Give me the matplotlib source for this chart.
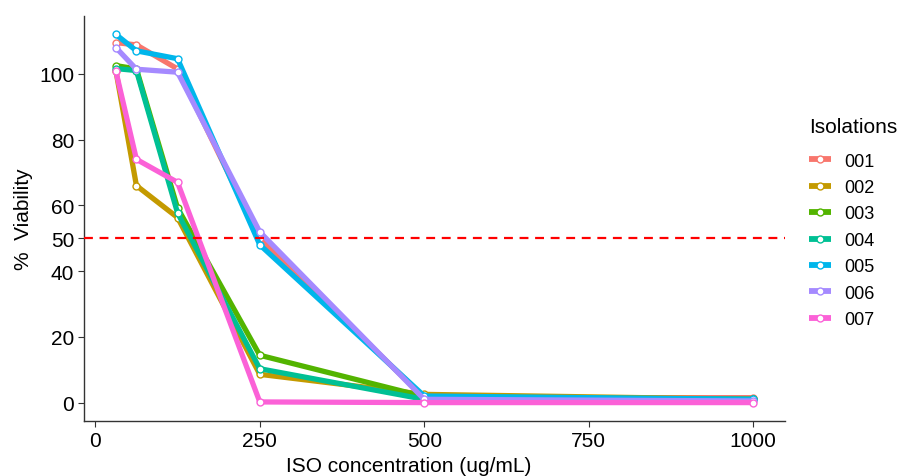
import matplotlib
matplotlib.use("Agg")
import matplotlib.pyplot as plt

plt.rcParams['font.family'] = ['Liberation Sans', 'DejaVu Sans']

conc = [31.25, 62.5, 125, 250, 500, 1000]
isolations = ["001", "002", "003", "004", "005", "006", "007"]
v001 = [109.5, 108.8, 101.5, 50.0, 1.5, 1.5]
v002 = [101.0, 66.0, 56.3, 8.6, 2.5, 1.0]
v003 = [102.5, 101.5, 59.2, 14.4, 1.8, 1.0]
v004 = [101.6, 101.0, 57.7, 10.3, 1.0, 1.0]
v005 = [112.0, 107.0, 104.6, 48.0, 2.0, 1.0]
v006 = [108.0, 101.4, 100.5, 51.9, 1.0, 0.5]
v007 = [100.8, 74.0, 67.0, 0.2, 0.0, 0.0]
series = [v001, v002, v003, v004, v005, v006, v007]
colors = ["#F8766D", "#C49A00", "#53B400", "#00C094", "#00B6EB", "#A58AFF", "#FB61D7"]
yticks = [0, 20, 40, 50, 60, 80, 100]
xticks = [0, 250, 500, 750, 1000]
threshold = 50

fig = plt.figure(figsize=(9.04, 4.77), dpi=100)
ax = fig.add_axes([0.0929, 0.1153, 0.7755, 0.8491])

for name, vals, c in zip(isolations, series, colors):
    ax.plot(conc, vals, color=c, lw=3.8, solid_capstyle='butt', zorder=2,
            marker='o', ms=5, mfc='white', mec=c, mew=1.0, label=name)

ax.axhline(threshold, color='#FF0000', lw=1.6, ls=(0, (4, 3)), zorder=3)

ax.set_xlim(-17.2, 1048.4)
ax.set_ylim(-5.6, 117.6)
ax.set_xticks(xticks)
ax.set_yticks(yticks)
ax.tick_params(labelsize=15, length=4, width=0.8, colors='#333333', labelcolor='black', pad=3)
for s in ['top', 'right']:
    ax.spines[s].set_visible(False)
for s in ['left', 'bottom']:
    ax.spines[s].set_color('#333333')
    ax.spines[s].set_linewidth(1.0)

ax.set_ylabel('%  Viability', fontsize=15)
ax.yaxis.set_label_coords(-(84 - 24) / 701, 0.5)
ax.set_xlabel('ISO concentration (ug/mL)', fontsize=15)
ax.xaxis.set_label_coords((409 - 84) / 701, -(466 - 422) / 405)
ax.xaxis.label.set_va('center')
ax.yaxis.label.set_va('center')

leg = fig.legend(title='Isolations', loc='upper left', bbox_to_anchor=(809 / 904, (477 - 118) / 477),
                 frameon=False, fontsize=13, title_fontsize=15, handlelength=1.2,
                 handletextpad=0.75, labelspacing=0.52, alignment='left', borderaxespad=0,
                 borderpad=0)
for line in leg.get_lines():
    line.set_linewidth(4.2)
leg._legend_box.sep = 12

fig.savefig('out.png', dpi=100)
